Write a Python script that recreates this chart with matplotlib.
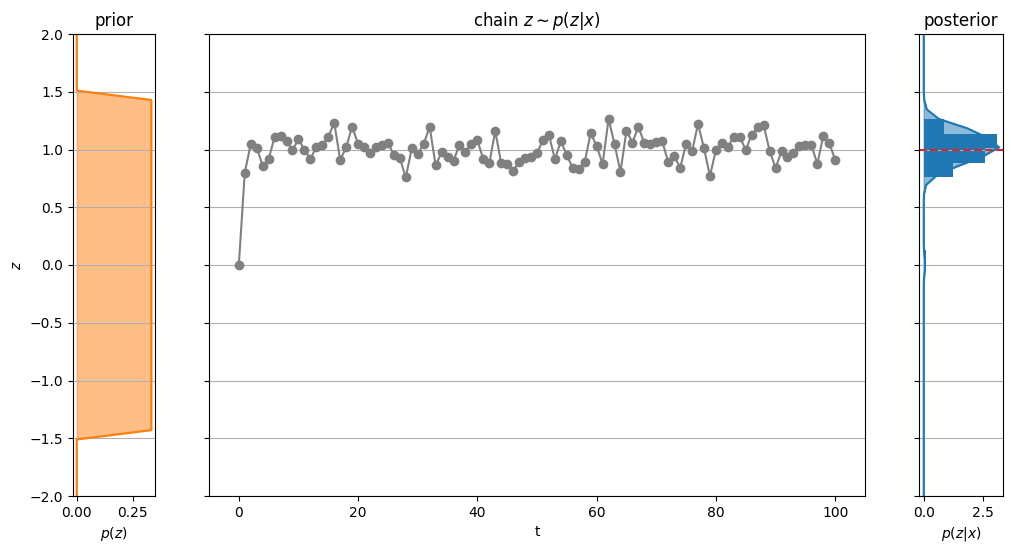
import matplotlib
matplotlib.use("Agg")
import matplotlib.pyplot as plt
import numpy as np

# ---- data ----
chain_z = [0.0, 0.80, 1.047, 1.015, 0.86, 0.915, 1.11, 1.12, 1.074, 0.996,
           1.088, 1.0, 0.915, 1.024, 1.036, 1.11, 1.232, 0.909, 1.019, 1.198,
           1.047, 1.019, 0.973, 1.019, 1.036, 1.059, 0.952, 0.924, 0.759, 1.01,
           0.961, 1.047, 1.198, 0.863, 0.975, 0.938, 0.903, 1.039, 0.981, 1.047,
           1.082, 0.915, 0.88, 1.16, 0.88, 0.874, 0.814, 0.894, 0.924, 0.932,
           0.967, 1.082, 1.128, 0.915, 1.071, 0.952, 0.837, 0.828, 0.892, 1.143,
           1.03, 0.874, 1.264, 1.047, 0.805, 1.163, 1.059, 1.198, 1.053, 1.047,
           1.068, 1.071, 0.892, 0.946, 0.84, 1.047, 0.984, 1.221, 1.01, 0.771,
           0.996, 1.053, 1.019, 1.11, 1.11, 0.996, 1.128, 1.192, 1.212, 0.99,
           0.84, 0.984, 0.932, 0.967, 1.03, 1.036, 1.042, 0.874, 1.117, 1.059,
           0.909]
chain_t = list(range(len(chain_z)))

prior_z = [-2.0, -1.510, -1.429, 1.429, 1.510, 2.0]
prior_p = [0.0, 0.0, 0.3333, 0.3333, 0.0, 0.0]

post_z = [-2.0, -0.204, -0.122, -0.041, 0.041, 0.122, 0.204, 0.531, 0.612,
          0.694, 0.776, 0.857, 0.939, 1.020, 1.102, 1.184, 1.265, 1.347,
          1.429, 1.510, 2.0]
post_p = [0.0, 0.0, 0.01, 0.05, 0.05, 0.01, 0.0, 0.0, 0.01,
          0.10, 0.55, 1.45, 2.50, 3.20, 2.70, 1.85, 0.64, 0.13,
          0.02, 0.0, 0.0]

z_true = 1.0

# ---- figure ----
fig = plt.figure(figsize=(10.12, 5.53), dpi=100)
W, H = 1012, 553
def ax_px(l, r, t, b, **kw):
    return fig.add_axes([l / W, 1 - b / H, (r - l) / W, (b - t) / H], **kw)

ax0 = ax_px(73, 155, 34, 496)
ax1 = ax_px(209, 865, 34, 496, sharey=ax0)
ax2 = ax_px(919, 1003, 34, 496, sharey=ax0)

# prior
ax0.plot(prior_p, prior_z, color="C1")
ax0.fill_betweenx(prior_z, 0, prior_p, color="C1", alpha=0.5)
ax0.set_title("prior")
ax0.set_xlabel("$p(z)$")
ax0.set_ylabel("$z$")
ax0.grid(axis="y")

# chain
ax1.plot(chain_t, chain_z, color="gray", marker="o")
ax1.set_title(r"chain $z \sim p(z|x)$")
ax1.set_xlabel("t")
ax1.grid(axis="y")
plt.setp(ax1.get_yticklabels(), visible=False)

# posterior
ax2.fill_betweenx(post_z, 0, post_p, color="C0", alpha=0.5)
ax2.plot(post_p, post_z, color="C0")
ax2.axhline(z_true, color="C3", ls="--")
ax2.hist(chain_z, bins=10, density=True, orientation="horizontal", color="C0")
ax2.set_title("posterior")
ax2.set_xlabel("$p(z|x)$")
ax2.grid(axis="y")
ax2.set_xlim(-0.2, 3.37)
ax2.set_xticks([0.0, 2.5])
ax2.set_xticklabels(["0.0", "2.5"])
plt.setp(ax2.get_yticklabels(), visible=False)
ax0.set_ylim(-2, 2)

fig.savefig("out.png", dpi=100)
